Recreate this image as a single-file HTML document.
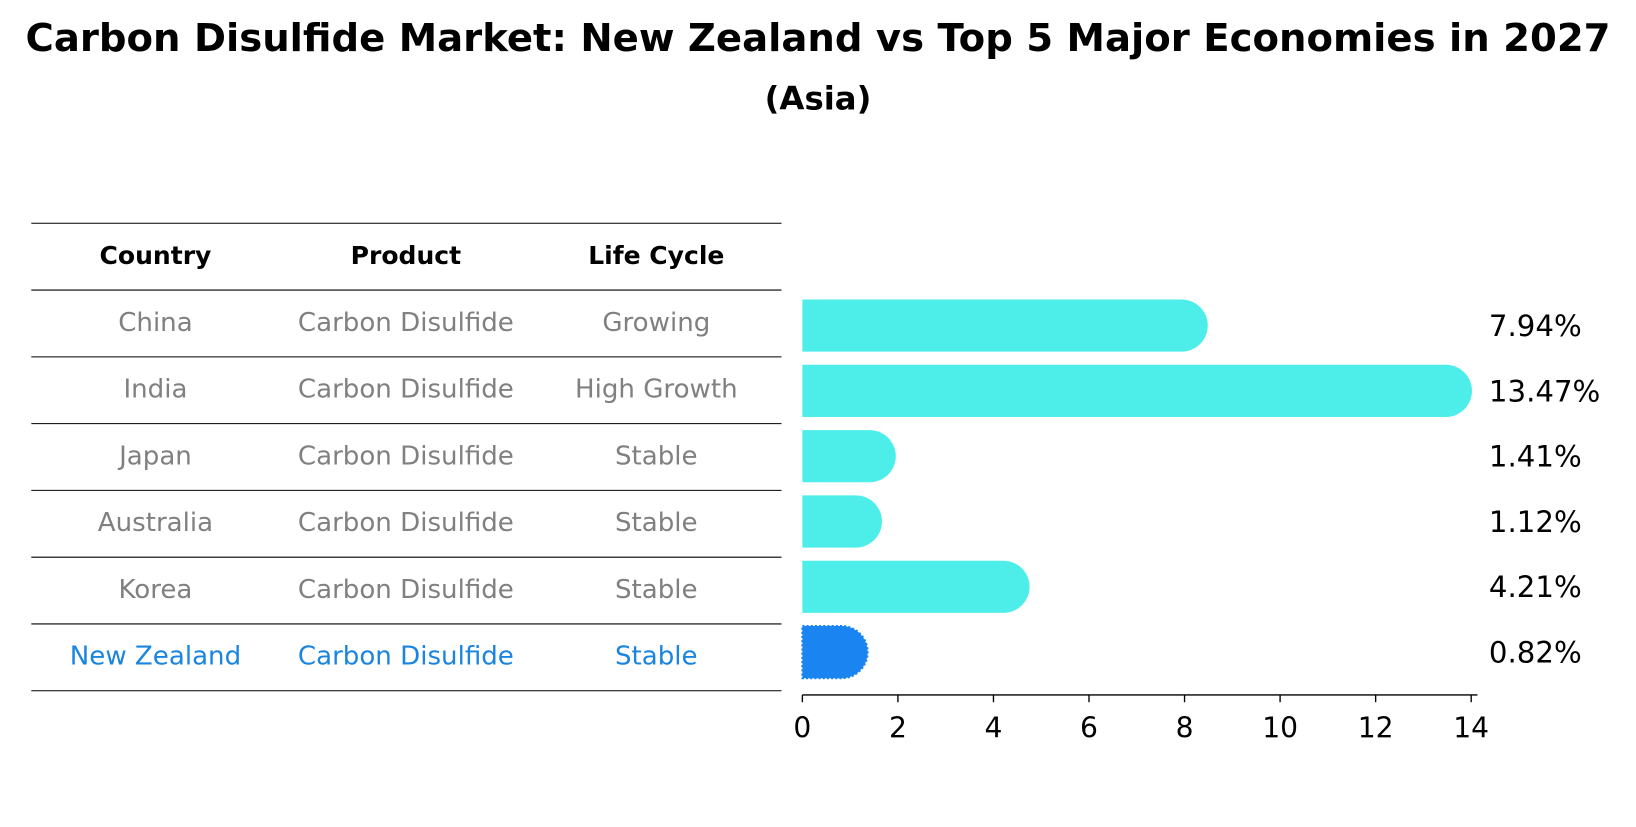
<!DOCTYPE html>
<html><head><meta charset="utf-8"><style>
body{margin:0;background:#fff;font-family:"DejaVu Sans","Liberation Sans",sans-serif}
</style></head><body>
<svg width="1636" height="823" xmlns="http://www.w3.org/2000/svg" font-family="DejaVu Sans, Liberation Sans, sans-serif">
<g transform="scale(1.0434)">
<text x="784" y="49" text-anchor="middle" font-size="37" font-weight="bold">Carbon Disulfide Market: New Zealand vs Top 5 Major Economies in 2027</text>
<text x="784" y="105" text-anchor="middle" font-size="31" font-weight="bold">(Asia)</text>
<g id="table"></g>
<g id="bars"></g>
<g id="axis"></g>
</g>
</svg>
<script>
const countries=["China","India","Japan","Australia","Korea","New Zealand"];
const products=["Carbon Disulfide","Carbon Disulfide","Carbon Disulfide","Carbon Disulfide","Carbon Disulfide","Carbon Disulfide"];
const lifeCycles=["Growing","High Growth","Stable","Stable","Stable","Stable"];
const values=[7.94,13.47,1.41,1.12,4.21,0.82];
const ticks=[0,2,4,6,8,10,12,14];
const NS="http://www.w3.org/2000/svg";
function mk(t,a,p){const e=document.createElementNS(NS,t);for(const k in a)e.setAttribute(k,a[k]);p.appendChild(e);return e;}
const x=v=>769+v*(1410-769)/14;
const rowY=i=>312+i*62.6;
const tbl=document.getElementById('table');
for(let i=0;i<8;i++){const yy=214+i*64;const l=mk('line',{x1:30,x2:749,y1:yy,y2:yy,stroke:'#000','stroke-width':1},tbl);

}
const colX=[149,389,629];
["Country","Product","Life Cycle"].forEach((h,j)=>{const t=mk('text',{x:colX[j],y:253,'text-anchor':'middle','font-size':24,'font-weight':'bold'},tbl);t.textContent=h;

});
countries.forEach((c,i)=>{const col=i===countries.length-1?'#1a85e0':'#808080';
[c,products[i],lifeCycles[i]].forEach((s,j)=>{const t=mk('text',{x:colX[j],y:317+i*64,'text-anchor':'middle','font-size':25,fill:col},tbl);t.textContent=s;

});});
const bars=document.getElementById('bars');
values.forEach((v,i)=>{const cy=rowY(i),h=50,r=25,x0=x(0),x1=x(v);const nz=i===values.length-1;
const d=`M${x0},${cy-h/2}L${x1},${cy-h/2}A${r},${r} 0 0 1 ${x1},${cy+h/2}L${x0},${cy+h/2}Z`;
const p=mk('path',{d:d,fill:nz?'#1a85f0':'#4deeea'},bars);
if(nz){p.setAttribute('stroke','#1a85f0');p.setAttribute('stroke-dasharray','2 2');p.setAttribute('stroke-width','2');}


const t=mk('text',{x:1427,y:cy+10,'font-size':28},bars);t.textContent=v.toFixed(2)+'%';

});
const ax=document.getElementById('axis');
mk('line',{x1:769,x2:1416,y1:666,y2:666,stroke:'#000','stroke-width':1.3},ax);
ticks.forEach(v=>{mk('line',{x1:x(v),x2:x(v),y1:666,y2:673,stroke:'#000','stroke-width':1.3},ax);
const t=mk('text',{x:x(v),y:707,'text-anchor':'middle','font-size':27},ax);t.textContent=v;

});
</script>
</body></html>
